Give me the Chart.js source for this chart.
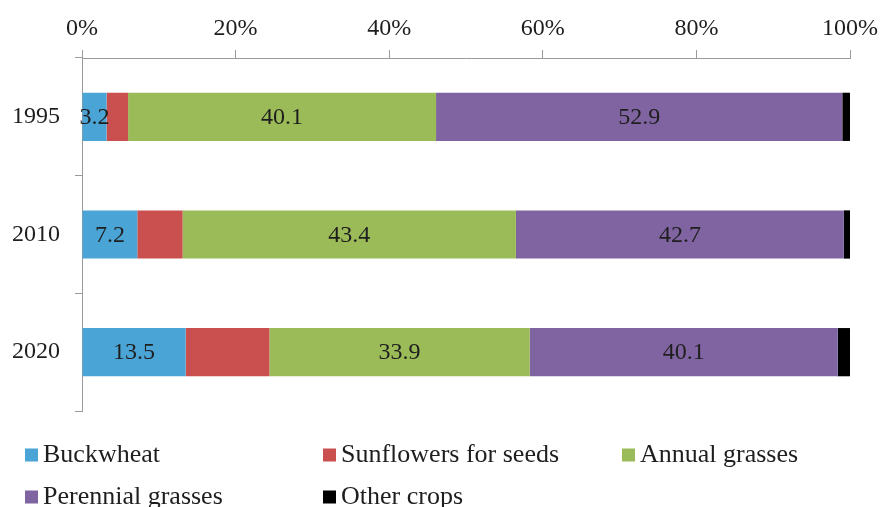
<!DOCTYPE html>
<html>
<head>
<meta charset="utf-8">
<script src="https://cdn.jsdelivr.net/npm/chart.js@4/dist/chart.umd.min.js"></script>
<style>
  html, body { margin: 0; padding: 0; background: #ffffff; }
  #wrap { width: 882px; height: 507px; position: relative; }
</style>
</head>
<body>
<div id="wrap"><canvas id="chart" width="882" height="507"></canvas></div>
<script>
// Crop structure by year, share of sown area (%)
const years = ['1995', '2010', '2020'];
const buckwheat = [3.2, 7.2, 13.5];
const sunflowers = [2.8, 5.9, 10.9];
const annualGrasses = [40.1, 43.4, 33.9];
const perennialGrasses = [52.9, 42.7, 40.1];
const otherCrops = [1.0, 0.8, 1.6];
const percentTicks = [0, 20, 40, 60, 80, 100];

const FONT = '"Liberation Serif", "Times New Roman", serif';
const AXIS_GREY = '#9a9a9a';
const TEXT = '#1e1e1e';

// Value labels centred on the segments of the labelled series
const segmentLabels = {
  id: 'segmentLabels',
  afterDatasetsDraw(chart) {
    const ctx = chart.ctx;
    ctx.save();
    ctx.font = '24px ' + FONT;
    ctx.fillStyle = TEXT;
    ctx.textAlign = 'center';
    ctx.textBaseline = 'middle';
    chart.data.datasets.forEach((ds, i) => {
      if (!ds.showValues) return;
      const meta = chart.getDatasetMeta(i);
      meta.data.forEach((bar, j) => {
        const c = bar.getCenterPoint();
        ctx.fillText(ds.data[j].toFixed(1), c.x, c.y + 1);
      });
    });
    ctx.restore();
  }
};

// Two-row legend with fixed columns below the plot
const gridLegend = {
  id: 'gridLegend',
  afterDraw(chart) {
    const ctx = chart.ctx;
    const cols = [25, 323, 622];
    const rows = [455, 497];
    const box = 13;
    ctx.save();
    ctx.font = '26px ' + FONT;
    ctx.textBaseline = 'middle';
    ctx.textAlign = 'left';
    chart.data.datasets.forEach((ds, i) => {
      const x = cols[i % 3];
      const y = rows[Math.floor(i / 3)];
      ctx.fillStyle = ds.backgroundColor;
      ctx.fillRect(x, y - box / 2, box, box);
      ctx.fillStyle = TEXT;
      ctx.fillText(ds.label, x + box + 5, y);
    });
    ctx.restore();
  }
};

new Chart(document.getElementById('chart'), {
  type: 'bar',
  data: {
    labels: years,
    datasets: [
      { label: 'Buckwheat', data: buckwheat, backgroundColor: '#4ba4d6', showValues: true },
      { label: 'Sunflowers for seeds', data: sunflowers, backgroundColor: '#c9504e' },
      { label: 'Annual grasses', data: annualGrasses, backgroundColor: '#9bbb59', showValues: true },
      { label: 'Perennial grasses', data: perennialGrasses, backgroundColor: '#8064a2', showValues: true },
      { label: 'Other crops', data: otherCrops, backgroundColor: '#000000' }
    ]
  },
  options: {
    indexAxis: 'y',
    responsive: false,
    animation: false,
    events: [],
    layout: { padding: { left: 0, right: 32, top: 0, bottom: 96 } },
    datasets: { bar: { barPercentage: 0.41, categoryPercentage: 1.0, borderWidth: 0 } },
    plugins: {
      legend: { display: false },
      tooltip: { enabled: false }
    },
    scales: {
      x: {
        position: 'top',
        stacked: true,
        min: 0,
        max: 100,
        afterBuildTicks(scale) {
          scale.ticks = percentTicks.map(v => ({ value: v }));
        },
        afterFit(scale) {
          scale.height = 58;
          scale.paddingLeft = 0;
          scale.paddingRight = 0;
        },
        border: { display: true, color: AXIS_GREY, width: 1 },
        grid: { display: true, drawOnChartArea: false, drawTicks: true, tickLength: 8, color: AXIS_GREY },
        ticks: {
          padding: 7,
          color: TEXT,
          font: { family: FONT, size: 24 },
          callback: v => v + '%'
        }
      },
      y: {
        stacked: true,
        afterFit(scale) { scale.width = 82; },
        border: { display: true, color: AXIS_GREY, width: 1 },
        grid: { display: true, offset: true, drawOnChartArea: false, drawTicks: true, tickLength: 7, color: AXIS_GREY },
        ticks: {
          padding: 15,
          color: TEXT,
          font: { family: FONT, size: 24 }
        }
      }
    }
  },
  plugins: [segmentLabels, gridLegend]
});
</script>
</body>
</html>
